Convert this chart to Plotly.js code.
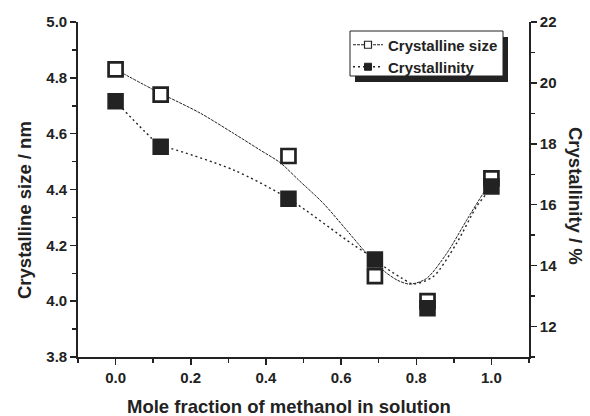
<!DOCTYPE html>
<html><head><meta charset="utf-8">
<script src="https://cdn.plot.ly/plotly-3.0.1.min.js"></script>
<style>html,body{margin:0;padding:0;background:#fff}#chart{width:590px;height:416px}</style>
</head><body><div id="chart"></div>
<script>
// measured points
const moleFraction = [0, 0.12, 0.46, 0.69, 0.83, 1.0];
const crystallineSize = [4.83, 4.74, 4.52, 4.09, 4.00, 4.44];
const crystallinity = [19.4, 17.9, 16.2, 14.2, 12.6, 16.6];
// smoothed guide curves
const sizeCurveX = [0, 0.124, 0.146, 0.226, 0.314, 0.385, 0.438, 0.487, 0.553, 0.615, 0.668, 0.717, 0.750, 0.783, 0.827, 0.881, 0.934, 0.978, 1.0];
const sizeCurveY = [4.83, 4.741, 4.727, 4.673, 4.601, 4.541, 4.496, 4.434, 4.350, 4.254, 4.171, 4.105, 4.075, 4.061, 4.081, 4.171, 4.290, 4.386, 4.43];
const crystCurveX = [0, 0.124, 0.146, 0.314, 0.46, 0.633, 0.693, 0.721, 0.760, 0.792, 0.845, 0.907, 0.960, 0.987, 1.0];
const crystCurveY = [19.4, 17.9, 17.85, 17.14, 16.2, 14.68, 14.2, 13.91, 13.6, 13.40, 13.64, 14.73, 15.93, 16.37, 16.6];
const seriesNames = ['Crystalline size', 'Crystallinity'];
const xTitle = 'Mole fraction of methanol in solution';
const yTitle = 'Crystalline size / nm';
const y2Title = 'Crystallinity / %';

const ink = '#222';
const fam = '"Liberation Sans", Arial, sans-serif';
const bold = (s) => ({family: fam, size: s, color: ink, weight: 'bold'});

const traces = [
  {x: sizeCurveX, y: sizeCurveY, mode: 'lines', line: {shape: 'spline', smoothing: 0.8, color: ink, width: 1, dash: '3px,1px'}, showlegend: false, hoverinfo: 'skip'},
  {x: crystCurveX, y: crystCurveY, yaxis: 'y2', mode: 'lines', line: {shape: 'spline', smoothing: 0.8, color: ink, width: 1.4, dash: '2px,3px'}, showlegend: false, hoverinfo: 'skip'},
  {x: moleFraction, y: crystallineSize, mode: 'markers', marker: {symbol: 'square', size: 14, color: '#fff', line: {color: ink, width: 2.7}}, showlegend: false},
  {x: moleFraction, y: crystallinity, yaxis: 'y2', mode: 'markers', marker: {symbol: 'square', size: 15, color: ink, line: {color: ink, width: 1.5}}, showlegend: false},
  {x: [null], y: [null], name: seriesNames[0], legend: 'legend', mode: 'lines+markers', line: {color: ink, width: 1, dash: '3px,1px'}, marker: {symbol: 'square', size: 7, color: '#fff', line: {color: ink, width: 1.2}}},
  {x: [null], y: [null], name: seriesNames[1], legend: 'legend2', mode: 'lines+markers', line: {color: ink, width: 1.4, dash: '2px,3px'}, marker: {symbol: 'square', size: 7, color: ink, line: {color: ink, width: 1}}}
];

const axisCommon = {showline: true, linecolor: ink, linewidth: 1.8, ticks: 'outside', tickcolor: ink, tickwidth: 1.5, ticklen: 6, showgrid: false, zeroline: false, tickfont: bold(15)};

const W = 451, H = 335;
const lgL = 350, lgT = 31, lgR = 503, lgB = 76;
const px = (v) => (v - 78) / W, py = (v) => 1 - (v - 22) / H;
const legendBase = {xanchor: 'left', yanchor: 'middle', bgcolor: 'rgba(0,0,0,0)', borderwidth: 0, font: bold(15), itemwidth: 30};

const layout = {
  width: 590, height: 416,
  margin: {l: 78, r: 61, t: 22, b: 59},
  paper_bgcolor: '#fff', plot_bgcolor: '#fff',
  font: bold(15),
  xaxis: Object.assign({}, axisCommon, {range: [-0.1, 1.1], tickvals: [0, 0.2, 0.4, 0.6, 0.8, 1.0], tickformat: '.1f',
    minor: {ticks: 'outside', ticklen: 4, tickcolor: ink, tickwidth: 1.5, dtick: 0.1, tick0: 0.1}}),
  xaxis2: {overlaying: 'x', matches: 'x', side: 'top', showline: true, linecolor: ink, linewidth: 1.8, ticks: 'inside', ticklen: 3, tickwidth: 1.2, tickcolor: ink, showticklabels: false, showgrid: false, zeroline: false, dtick: 0.1, tick0: 0},
  yaxis: Object.assign({}, axisCommon, {range: [3.8, 5.0], dtick: 0.2, tick0: 3.8, tickformat: '.1f',
    minor: {ticks: 'outside', ticklen: 4, tickcolor: ink, tickwidth: 1.5, dtick: 0.1, tick0: 3.9}}),
  yaxis2: Object.assign({}, axisCommon, {overlaying: 'y', side: 'right', range: [11, 22], dtick: 2, tick0: 0,
    minor: {ticks: 'outside', ticklen: 4, tickcolor: ink, tickwidth: 1.5, dtick: 2, tick0: 1}}),
  legend: Object.assign({}, legendBase, {x: px(348), y: py(45)}),
  legend2: Object.assign({}, legendBase, {x: px(348), y: py(67)}),
  shapes: [
    {type: 'rect', xref: 'paper', yref: 'paper', x0: px(lgL + 5), x1: px(lgR + 5), y0: py(lgB + 6), y1: py(lgT + 6), fillcolor: ink, line: {width: 0}, layer: 'above'},
    {type: 'rect', xref: 'paper', yref: 'paper', x0: px(lgL), x1: px(lgR), y0: py(lgB), y1: py(lgT), fillcolor: '#fff', line: {width: 1, color: ink}, layer: 'above'}
  ],
  annotations: [
    {text: xTitle, xref: 'paper', yref: 'paper', x: px(288.5), y: py(406), showarrow: false, font: bold(18.5), xanchor: 'center', yanchor: 'middle'},
    {text: yTitle, xref: 'paper', yref: 'paper', x: px(24), y: py(210), textangle: -90, showarrow: false, font: bold(18.5), xanchor: 'center', yanchor: 'middle'},
    {text: y2Title, xref: 'paper', yref: 'paper', x: px(576), y: py(196), textangle: 90, showarrow: false, font: bold(18.5), xanchor: 'center', yanchor: 'middle'}
  ]
};

Plotly.newPlot('chart', traces, layout, {displayModeBar: false, staticPlot: true});
</script></body></html>
